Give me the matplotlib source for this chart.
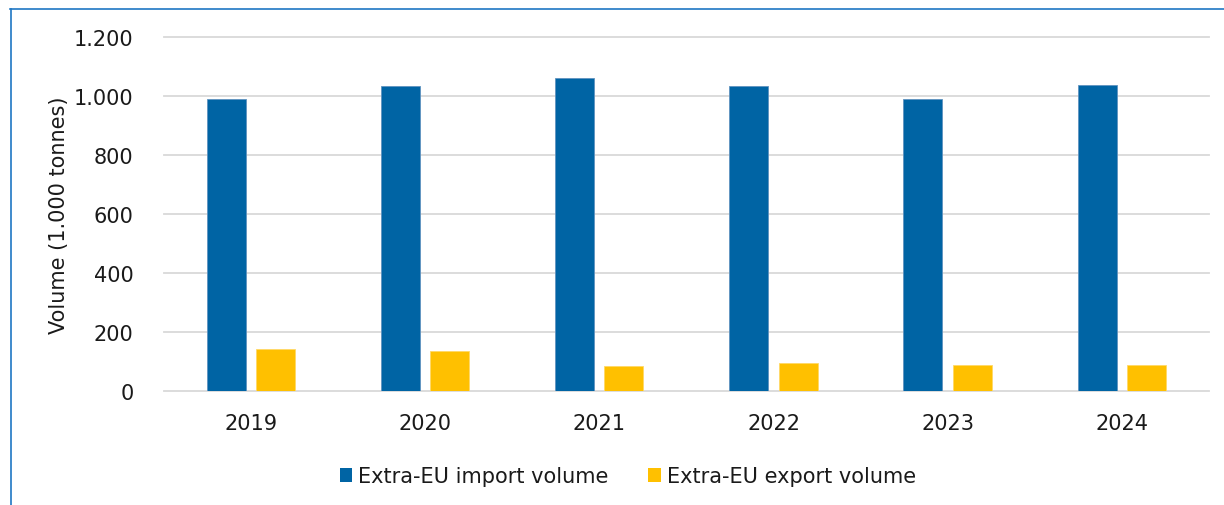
import matplotlib.pyplot as plt
import numpy as np
from matplotlib.patches import Patch
from matplotlib.lines import Line2D
from matplotlib.ticker import FuncFormatter

years = ["2019", "2020", "2021", "2022", "2023", "2024"]
import_volume = [989, 1034, 1060, 1034, 990, 1037]
export_volume = [143, 134, 85, 94, 87, 88]

blue = "#0064a4"
yellow = "#ffc000"

plt.rcParams["font.family"] = ["DejaVu Sans"]

fig = plt.figure(figsize=(12.24, 5.06), dpi=100)
ax = fig.add_axes([0.134, 0.2253, 0.8537, 0.6996])

x = np.arange(len(years))
w = 0.224
ax.bar(x - 0.142, import_volume, w, color=blue, edgecolor="#5f93c0", linewidth=0.6, zorder=3)
ax.bar(x + 0.141, export_volume, w, color=yellow, edgecolor="#ffd966", linewidth=0.6, zorder=3)

ax.set_xlim(-0.5, len(years) - 0.5)
ax.set_ylim(0, 1200)
ax.set_yticks(range(0, 1201, 200))
ax.yaxis.set_major_formatter(FuncFormatter(lambda v, p: f"{int(v):,}".replace(",", ".")))
ax.set_xticks(x)
ax.set_xticklabels(years)

ax.grid(axis="y", color="#d9d9d9", linewidth=1.3, zorder=0)
for gl in ax.get_ygridlines():
    gl.set_clip_on(False)
ax.tick_params(axis="both", length=0, labelsize=15, colors="#1a1a1a")
ax.tick_params(axis="y", pad=22)
ax.tick_params(axis="x", pad=16)
for s in ax.spines.values():
    s.set_visible(False)

ax.set_ylabel("Volume (1.000 tonnes)", fontsize=15, color="#1a1a1a")
ax.yaxis.set_label_coords(-0.0905, 0.5)

handles = [Patch(facecolor=blue, label="Extra-EU import volume"),
           Patch(facecolor=yellow, label="Extra-EU export volume")]
fig.legend(handles=handles, loc="center", bbox_to_anchor=(0.513, 0.057), ncol=2,
           frameon=False, fontsize=15, handlelength=0.6, handleheight=0.7,
           handletextpad=0.3, columnspacing=1.9, labelcolor="#1a1a1a")

# frame lines at top and left
fig.add_artist(Line2D([10 / 1224, 1], [1 - 9.5 / 506, 1 - 9.5 / 506], color="#1f77c4", linewidth=1.2))
fig.add_artist(Line2D([10.5 / 1224, 10.5 / 1224], [0, 1 - 9.5 / 506], color="#1f77c4", linewidth=1.2))

fig.savefig("out.png", dpi=100)
